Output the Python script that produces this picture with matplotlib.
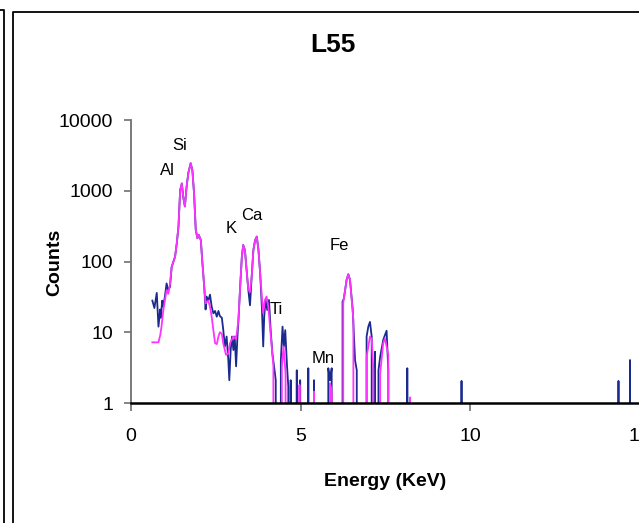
import numpy as np
import matplotlib
matplotlib.use("Agg")
import matplotlib.pyplot as plt
from matplotlib.lines import Line2D

plt.rcParams['font.family'] = ['Liberation Sans Narrow', 'Liberation Sans', 'DejaVu Sans']

# spectrum L55 - two acquisitions
energy_a = [0.63, 0.69, 0.76, 0.81, 0.86, 0.88, 0.92, 0.95, 1.00, 1.05, 1.10, 1.15,
            1.20, 1.25, 1.30, 1.35, 1.40, 1.45, 1.50, 1.54, 1.59, 1.64, 1.69, 1.76,
            1.81, 1.86, 1.91, 1.96, 2.00, 2.06, 2.10, 2.16, 2.20, 2.23, 2.28, 2.33,
            2.38, 2.43, 2.48, 2.53, 2.58, 2.62, 2.68, 2.72, 2.77, 2.82, 2.87, 2.90,
            2.94, 2.98, 3.02, 3.06, 3.10, 3.14, 3.17, 3.22, 3.27, 3.31, 3.36, 3.41,
            3.46, 3.51, 3.56, 3.61, 3.66, 3.71, 3.76, 3.81, 3.86, 3.90, 3.93, 3.97,
            4.02, 4.07, 4.12, 4.17, 4.22, 4.27, 4.30, 4.40, 4.42, 4.47, 4.51, 4.55,
            4.60, 4.64, 4.67, 4.71, 4.74, 4.87, 4.89, 4.92, 4.97, 4.99, 5.02, 5.21,
            5.23, 5.26, 5.38, 5.40, 5.43, 5.80, 5.82, 5.87, 5.92, 5.95, 6.17, 6.24,
            6.28, 6.36, 6.41, 6.46, 6.54, 6.61, 6.66, 6.69, 6.85, 6.95, 7.00, 7.05,
            7.10, 7.15, 7.20, 7.25, 7.30, 7.35, 7.44, 7.49, 7.54, 7.59, 7.63, 8.12,
            8.15, 8.18, 9.73, 9.75, 9.80, 14.36, 14.38, 14.42, 14.70, 14.72, 14.75, 15.5]
counts_a = [28, 22, 36, 12, 21, 16, 28, 23, 32, 49, 39, 44,
            84, 99, 117, 180, 310, 1020, 1270, 820, 600, 1140, 1770, 2450,
            1960, 920, 280, 213, 237, 200, 105, 44, 21, 32, 28, 34,
            23, 18.5, 20, 16.6, 20, 17, 16, 11, 6.3, 8.7, 4.1, 2.1,
            5.6, 8.7, 5.6, 8.7, 3.3, 8.7, 15, 44, 117, 171, 145, 75,
            40, 24, 61, 145, 200, 225, 145, 68, 23, 6.3, 16.6, 28.6,
            20.6, 28.6, 10.7, 5.0, 3.3, 2.1, 0, 0, 4, 12, 6.3, 10.7,
            3.5, 1.7, 0, 2.1, 0, 0, 2.9, 0, 0, 2.1, 0, 0,
            3.1, 0, 0, 2.1, 0, 0, 3.1, 2.1, 3.1, 0, 0, 27,
            30, 55, 66, 55, 21, 4, 2.9, 0, 0, 8.7, 12, 14,
            8.7, 0, 5.3, 0, 2.9, 4.5, 7.8, 9.1, 10.5, 2.9, 0, 0,
            3.1, 0, 0, 2.05, 0, 0, 2.05, 0, 0, 4.05, 0, 0]

energy_b = [0.63, 0.81, 0.86, 0.90, 0.95, 1.00, 1.05, 1.10, 1.15,
            1.20, 1.25, 1.30, 1.35, 1.40, 1.45, 1.50, 1.54, 1.59, 1.64, 1.69, 1.76,
            1.81, 1.86, 1.91, 1.96, 2.00, 2.06, 2.10, 2.16, 2.20, 2.28, 2.33,
            2.38, 2.43, 2.48, 2.53, 2.58, 2.62, 2.68, 2.72, 2.77, 2.80, 2.87, 2.92,
            3.02, 3.10, 3.17, 3.22, 3.27, 3.31, 3.36, 3.41, 3.46, 3.51, 3.56, 3.61,
            3.66, 3.71, 3.76, 3.81, 3.86, 3.90, 3.95, 4.00, 4.05, 4.10, 4.15, 4.20,
            4.25, 4.40, 4.45, 4.50, 4.56, 4.60, 4.94, 4.97, 5.00, 5.35, 5.40, 5.45,
            5.82, 5.87, 5.92, 5.95, 6.17, 6.26, 6.36, 6.41, 6.46, 6.56, 6.65, 6.85,
            6.95, 7.05, 7.10, 7.15, 7.25, 7.35, 7.44, 7.49, 7.59, 7.63, 8.20, 8.23,
            8.26, 15.5]
counts_b = [7.2, 7.2, 9, 12, 20, 28, 39, 35, 48,
            84, 99, 117, 180, 310, 1020, 1270, 820, 600, 1140, 1770, 2450,
            1960, 920, 280, 213, 237, 200, 105, 44, 25.6, 28, 23,
            16.6, 10.7, 7.0, 6.8, 8.7, 10, 9.5, 7, 5.6, 4.8, 5, 7,
            8.7, 8, 15, 44, 117, 171, 145, 75, 40, 37, 61, 145,
            200, 225, 145, 68, 32, 18.5, 28.6, 32, 23, 12, 6.3, 3.3,
            0, 0, 3.3, 6.3, 2.6, 0, 0, 1.8, 0, 0, 1.45, 0,
            0, 1.9, 1.5, 0, 0, 26, 55, 66, 55, 15, 0, 0,
            4.5, 8.7, 8, 2.9, 0, 2.6, 7, 8.2, 4.8, 0, 0, 1.2,
            0, 0]

peak_names = ['Al', 'Si', 'K', 'Ca', 'Ti', 'Mn', 'Fe']
peak_x = [1.06, 1.45, 2.95, 3.57, 4.28, 5.66, 6.14]
peak_y = [1960, 4430, 297, 454, 21.3, 4.3, 171]

fig = plt.figure(figsize=(6.39, 5.23), dpi=100)
fig.patch.set_facecolor('white')

# frame edges of the chart area and the neighbouring panel
W, H = 639.0, 523.0
fig.add_artist(Line2D([13 / W, 13 / W, 1.0], [0, 1 - 12 / H, 1 - 12 / H],
                      transform=fig.transFigure, color='black', lw=1.3))
fig.add_artist(Line2D([0, 4 / W, 4 / W], [1 - 10 / H, 1 - 10 / H, 0],
                      transform=fig.transFigure, color='black', lw=1.3))

ax = fig.add_axes([131 / W, 120 / H, 508.5 / W, 283 / H])
ax.plot(energy_a, counts_a, color='#1a2a8e', lw=1.3, clip_on=True)
ax.plot(energy_b, counts_b, color='#ff33ff', lw=1.3, clip_on=True)
ax.set_yscale('log', nonpositive='clip')
ax.set_xlim(0, 15)
ax.set_ylim(1, 10000)
ax.set_xticks([0, 5, 10, 15])
ax.set_yticks([1, 10, 100, 1000, 10000])
ax.set_yticklabels(['1', '10', '100', '1000', '10000'])
ax.minorticks_off()

for side in ['top', 'right']:
    ax.spines[side].set_visible(False)
ax.spines['left'].set_color('#707070')
ax.spines['left'].set_linewidth(1.3)
ax.spines['bottom'].set_color('black')
ax.spines['bottom'].set_linewidth(1.8)
ax.tick_params(axis='y', direction='out', length=5, width=1.2, color='#707070',
               labelsize=14, pad=8)
ax.tick_params(axis='x', direction='out', length=6, width=1.2, color='#707070',
               labelsize=14, pad=12)

for name, x, y in zip(peak_names, peak_x, peak_y):
    ax.text(x, y, name, fontsize=12, ha='center', va='center')

fig.text(333 / W, 1 - 45 / H, 'L55', fontsize=19, fontweight='bold',
         ha='center', va='center')
fig.text(55 / W, 1 - 262 / H, 'Counts', fontsize=14, fontweight='bold',
         rotation=90, ha='center', va='center')
fig.text(385 / W, 1 - 482 / H, 'Energy (KeV)', fontsize=14, fontweight='bold',
         ha='center', va='center')

fig.savefig('out.png', dpi=100)
